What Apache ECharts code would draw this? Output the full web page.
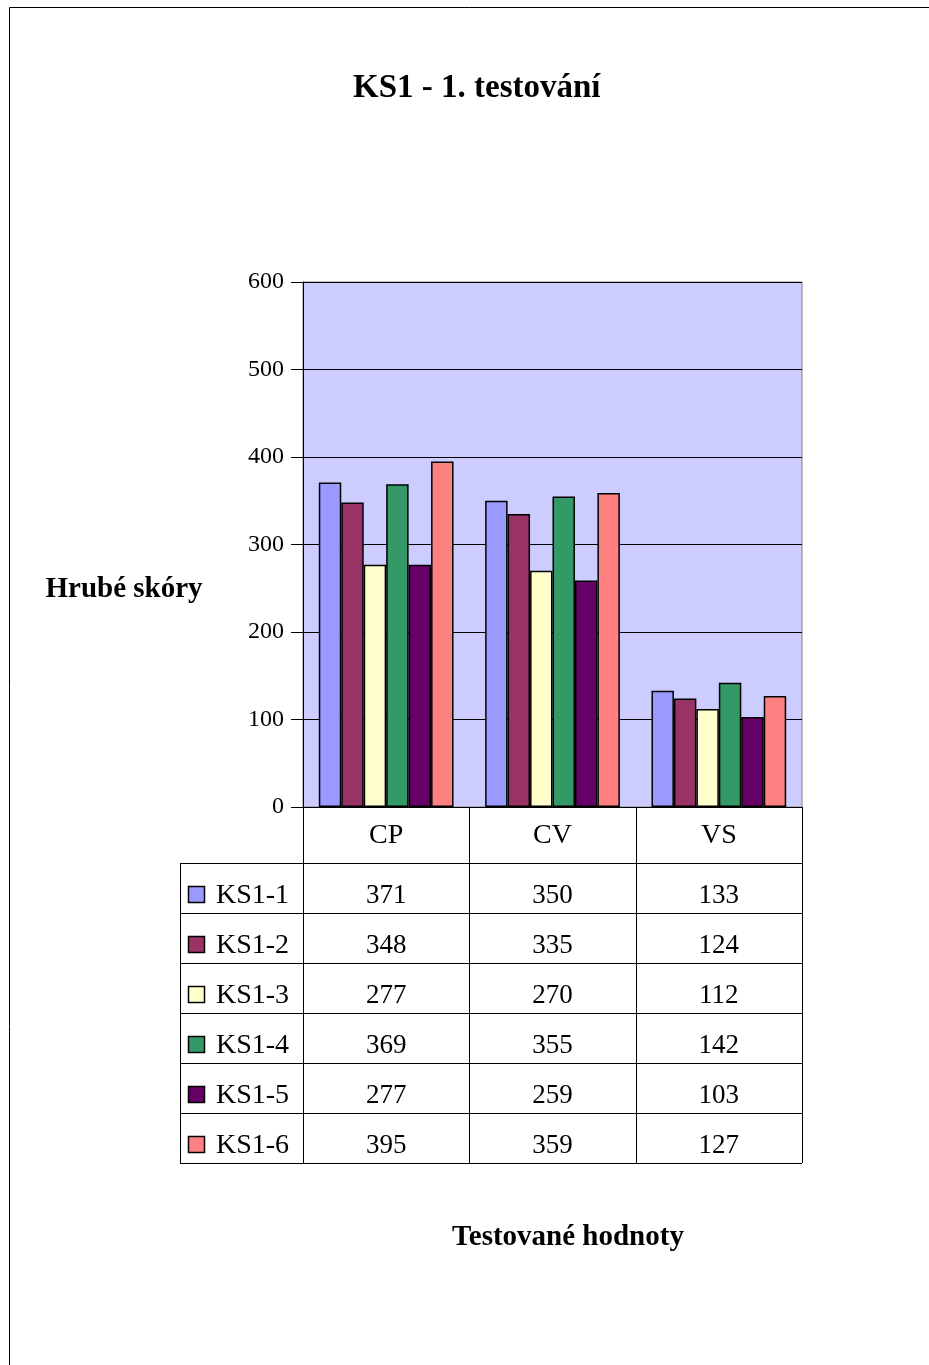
<!DOCTYPE html>
<html>
<head>
<meta charset="utf-8">
<script src="https://cdn.jsdelivr.net/npm/echarts@6/dist/echarts.min.js"></script>
<style>
  html, body { margin: 0; padding: 0; background: #fff; }
  #chart { width: 929px; height: 1365px; }
</style>
</head>
<body>
<div id="chart"></div>
<script>
// data
var categories = ['CP', 'CV', 'VS'];
var seriesNames = ['KS1-1', 'KS1-2', 'KS1-3', 'KS1-4', 'KS1-5', 'KS1-6'];
var ks1_1 = [371, 350, 133];
var ks1_2 = [348, 335, 124];
var ks1_3 = [277, 270, 112];
var ks1_4 = [369, 355, 142];
var ks1_5 = [277, 259, 103];
var ks1_6 = [395, 359, 127];
var yTicks = [0, 100, 200, 300, 400, 500, 600];

var seriesValues = [ks1_1, ks1_2, ks1_3, ks1_4, ks1_5, ks1_6];
var colors = ['#9999FF', '#993366', '#FFFFCC', '#339966', '#660066', '#FF8080'];
var serif = '"Liberation Serif", "Times New Roman", serif';

var chart = echarts.init(document.getElementById('chart'));

var series = [];
for (var i = 0; i < seriesNames.length; i++) {
    series.push({
        name: seriesNames[i],
        type: 'bar',
        data: seriesValues[i],
        barGap: '0%',
        barCategoryGap: '19%',
        itemStyle: {
            color: colors[i],
            borderColor: '#000',
            borderWidth: 1.5
        },
        silent: true
    });
}

chart.setOption({
    animation: false,
    title: {
        text: 'KS1 - 1. testování',
        left: 348,
        top: 67,
        textStyle: { fontFamily: serif, fontSize: 33, fontWeight: 'bold', color: '#000' }
    },
    grid: {
        left: 303,
        right: 127,
        top: 282,
        bottom: 558,
        show: true,
        backgroundColor: '#CCCCFF',
        borderColor: '#808080',
        borderWidth: 1
    },
    xAxis: {
        type: 'category',
        data: categories,
        axisLine: { lineStyle: { color: '#000', width: 1 } },
        axisTick: { show: false },
        axisLabel: { fontFamily: serif, fontSize: 28, color: '#000', margin: 15 }
    },
    yAxis: {
        type: 'value',
        min: yTicks[0],
        max: yTicks[yTicks.length - 1],
        interval: 100,
        axisLine: { show: true, lineStyle: { color: '#000', width: 1 } },
        axisTick: { show: true, length: 12, lineStyle: { color: '#000' } },
        axisLabel: { fontFamily: serif, fontSize: 24, color: '#000', margin: 19 },
        splitLine: { lineStyle: { color: '#000', width: 1 } }
    },
    series: series
});

// data table under the plot, positioned from the axis scale
var rowTop = 863, rowH = 50, tableLeft = 180;
var axisY = chart.convertToPixel({ yAxisIndex: 0 }, 0);
var c0 = chart.convertToPixel({ xAxisIndex: 0 }, categories[0]);
var c1 = chart.convertToPixel({ xAxisIndex: 0 }, categories[1]);
var band = c1 - c0;
var plotLeft = c0 - band / 2;
var plotRight = plotLeft + band * categories.length;
var tableBottom = rowTop + rowH * seriesNames.length;

var g = [];
// outer frame
g.push({ type: 'rect', shape: { x: 9.5, y: 7.5, width: 940, height: 1400 },
    style: { fill: 'none', stroke: '#000', lineWidth: 1 }, silent: true });

for (var r = 0; r <= seriesNames.length; r++) {
    var yy = rowTop + r * rowH + 0.5;
    g.push({ type: 'line', shape: { x1: tableLeft, y1: yy, x2: plotRight, y2: yy },
        style: { stroke: '#000', lineWidth: 1 }, silent: true });
}
for (var c = 0; c <= categories.length; c++) {
    var xx = Math.round(plotLeft + c * band) + 0.5;
    g.push({ type: 'line', shape: { x1: xx, y1: axisY, x2: xx, y2: tableBottom },
        style: { stroke: '#000', lineWidth: 1 }, silent: true });
}
g.push({ type: 'line', shape: { x1: tableLeft + 0.5, y1: rowTop, x2: tableLeft + 0.5, y2: tableBottom },
    style: { stroke: '#000', lineWidth: 1 }, silent: true });

for (var s = 0; s < seriesNames.length; s++) {
    var cy = rowTop + s * rowH + 33;
    g.push({ type: 'rect', shape: { x: 188.5, y: cy - 9.5, width: 16, height: 16 },
        style: { fill: colors[s], stroke: '#000', lineWidth: 1.5 }, silent: true });
    g.push({ type: 'text', x: 216, y: cy, silent: true,
        style: { text: seriesNames[s], font: '28px ' + serif, fill: '#000',
            textAlign: 'left', textVerticalAlign: 'middle' } });
    for (var k = 0; k < categories.length; k++) {
        g.push({ type: 'text', x: plotLeft + (k + 0.5) * band, y: cy, silent: true,
            style: { text: String(seriesValues[s][k]), font: '27px ' + serif, fill: '#000',
                textAlign: 'center', textVerticalAlign: 'middle' } });
    }
}

// axis titles
g.push({ type: 'text', x: 124, y: 590, silent: true,
    style: { text: 'Hrubé skóry', font: 'bold 29px ' + serif, fill: '#000',
        textAlign: 'center', textVerticalAlign: 'middle' } });
g.push({ type: 'text', x: 568, y: 1238, silent: true,
    style: { text: 'Testované hodnoty', font: 'bold 29px ' + serif, fill: '#000',
        textAlign: 'center', textVerticalAlign: 'middle' } });

chart.setOption({ graphic: g });
</script>
</body>
</html>
